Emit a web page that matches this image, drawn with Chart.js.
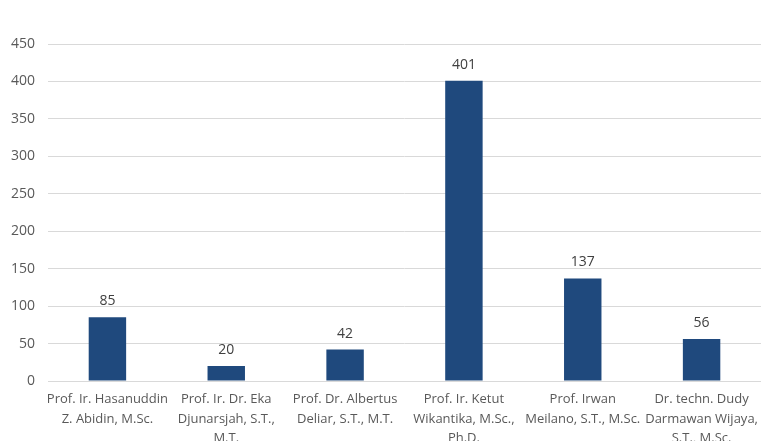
<!DOCTYPE html>
<html>
<head>
<meta charset="utf-8">
<script src="https://cdn.jsdelivr.net/npm/chart.js@4.4.0/dist/chart.umd.min.js"></script>
<style>
  html, body { margin: 0; padding: 0; background: #fff; }
  #wrap { width: 761px; height: 441px; }
</style>
</head>
<body>
<div id="wrap"><canvas id="myChart" width="761" height="441"></canvas></div>
<script>
const names = [
  ["Prof. Ir. Hasanuddin", "Z. Abidin, M.Sc."],
  ["Prof. Ir. Dr. Eka", "Djunarsjah, S.T.,", "M.T."],
  ["Prof. Dr. Albertus", "Deliar, S.T., M.T."],
  ["Prof. Ir. Ketut", "Wikantika, M.Sc.,", "Ph.D."],
  ["Prof. Irwan", "Meilano, S.T., M.Sc."],
  ["Dr. techn. Dudy", "Darmawan Wijaya,", "S.T., M.Sc."]
];
const counts = [85, 20, 42, 401, 137, 56];
const yTicks = [0, 50, 100, 150, 200, 250, 300, 350, 400, 450];

const textColor = "#595959";
const fontFamily = "'Open Sans', 'Noto Sans', sans-serif";

// draws the value over each bar
const valueLabels = {
  id: "valueLabels",
  afterDatasetsDraw(chart) {
    const ctx = chart.ctx;
    const meta = chart.getDatasetMeta(0);
    ctx.save();
    ctx.fillStyle = "#404040";
    ctx.font = "14px " + fontFamily;
    ctx.textAlign = "center";
    ctx.textBaseline = "middle";
    meta.data.forEach((bar, i) => {
      ctx.fillText(String(counts[i]), bar.x, bar.y - 16);
    });
    ctx.restore();
  }
};

const ctx = document.getElementById("myChart").getContext("2d");
new Chart(ctx, {
  type: "bar",
  data: {
    labels: names,
    datasets: [{
      data: counts,
      backgroundColor: "#1f497d",
      borderWidth: 0,
      categoryPercentage: 1,
      barPercentage: 0.315
    }]
  },
  options: {
    responsive: false,
    animation: false,
    layout: { padding: { top: 44, right: 0, left: 0, bottom: 0 } },
    plugins: {
      legend: { display: false },
      tooltip: { enabled: false }
    },
    scales: {
      x: {
        afterFit: (axis) => { axis.height = 60; },
        grid: { display: false },
        border: { display: true, color: "#d9d9d9", width: 1 },
        ticks: {
          color: textColor,
          font: { family: fontFamily, size: 13, lineHeight: 1.5 },
          maxRotation: 0,
          autoSkip: false,
          padding: 1
        }
      },
      y: {
        min: 0,
        max: 450,
        afterFit: (axis) => { axis.width = 48; },
        afterBuildTicks: (axis) => { axis.ticks = yTicks.map(v => ({ value: v })); },
        grid: { color: "#d9d9d9", drawTicks: false },
        border: { display: false },
        ticks: {
          color: textColor,
          font: { family: fontFamily, size: 14 },
          padding: 13
        }
      }
    }
  },
  plugins: [valueLabels]
});
</script>
</body>
</html>
